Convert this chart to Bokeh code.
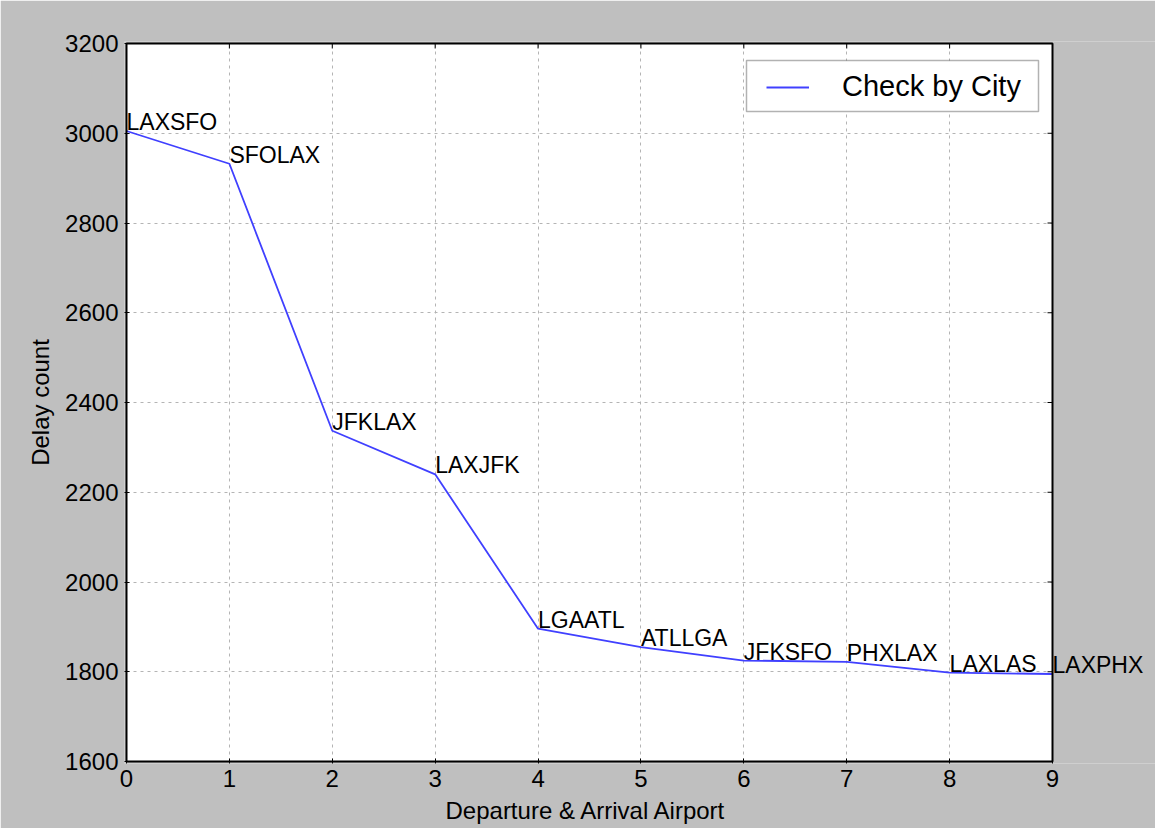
from bokeh.plotting import figure
from bokeh.models import (ColumnDataSource, Label, Range1d, FixedTicker,
                          BoxAnnotation, Title)
from bokeh.embed import file_html
from bokeh.resources import INLINE

# ---- data ----
routes = ["LAXSFO", "SFOLAX", "JFKLAX", "LAXJFK", "LGAATL",
          "ATLLGA", "JFKSFO", "PHXLAX", "LAXLAS", "LAXPHX"]
delays = [3005, 2932, 2337, 2240, 1896, 1855, 1825, 1822, 1798, 1795]
x_ticks = [0, 1, 2, 3, 4, 5, 6, 7, 8, 9]
y_ticks = [1600, 1800, 2000, 2200, 2400, 2600, 2800, 3000, 3200]
series_name = "Check by City"
x_title = "Departure & Arrival Airport"
y_title = "Delay count"

idx = list(range(len(routes)))
src = ColumnDataSource(dict(x=idx, y=delays, route=routes))

FONT = "Liberation Sans"
GRAY_BG = "#bfbfbf"

# ---- layout (pixels) ----
AX_L, AX_T = 126, 43          # white axes box, top-left on the page
AX_W, AX_H = 926, 718         # white axes box size
PAD = 2                       # frame padding so the black border is not clipped
RIGHT_EXTRA = 104             # room right of the axes for the last label
TICK = 5                      # inward tick length (px)
px_x = AX_W / (x_ticks[-1] - x_ticks[0])     # pixels per x unit
px_y = AX_H / (y_ticks[-1] - y_ticks[0])     # pixels per y unit

x_start = x_ticks[0] - PAD / px_x
x_end = x_ticks[-1] + (RIGHT_EXTRA - 1) / px_x
y_start = y_ticks[0] - PAD / px_y
y_end = y_ticks[-1] + PAD / px_y
FRAME_L, FRAME_T = AX_L - PAD, AX_T - PAD
FRAME_W = PAD + AX_W + RIGHT_EXTRA - 1
FRAME_H = AX_H + 2 * PAD

def to_x(px):
    return x_ticks[0] + (px - AX_L) / px_x

def to_y(py):
    return y_ticks[-1] - (py - AX_T) / px_y

p = figure(frame_width=FRAME_W, frame_height=FRAME_H,
           x_range=Range1d(x_start, x_end),
           y_range=Range1d(y_start, y_end),
           output_backend="svg", toolbar_location=None,
           min_border_left=FRAME_L, min_border_top=FRAME_T,
           min_border_right=0, min_border_bottom=20)

p.background_fill_color = GRAY_BG
p.border_fill_color = GRAY_BG
p.outline_line_color = None

# white axes area
p.add_layout(BoxAnnotation(left=x_ticks[0], right=x_ticks[-1],
                           bottom=y_ticks[0], top=y_ticks[-1],
                           fill_color="white", fill_alpha=1,
                           line_color=None, level="image"))
# black border of the axes
p.add_layout(BoxAnnotation(left=x_ticks[0], right=x_ticks[-1],
                           bottom=y_ticks[0], top=y_ticks[-1],
                           fill_alpha=0, line_color="black", line_width=2,
                           line_alpha=1, level="overlay"))

p.xgrid.ticker = FixedTicker(ticks=x_ticks[1:-1])
p.ygrid.ticker = FixedTicker(ticks=y_ticks[1:-1])
for g in (p.xgrid[0], p.ygrid[0]):
    g.grid_line_color = "#b4b4b4"
    g.grid_line_dash = "3 4"
    g.grid_line_width = 1
p.ygrid[0].cross_bounds = (x_ticks[0], x_ticks[-1])
p.xgrid[0].cross_bounds = (y_ticks[0], y_ticks[-1])

# mirrored inward ticks on the top and right edges (matplotlib style)
p.segment(x0=x_ticks, x1=x_ticks,
          y0=[y_ticks[-1]] * len(x_ticks),
          y1=[y_ticks[-1] - TICK / px_y] * len(x_ticks),
          line_color="black", line_width=1)
p.segment(x0=[x_ticks[-1]] * len(y_ticks),
          x1=[x_ticks[-1] - TICK / px_x] * len(y_ticks),
          y0=y_ticks, y1=y_ticks,
          line_color="black", line_width=1)

# legend box (drawn separately so its padding can match the reference)
p.add_layout(BoxAnnotation(left=to_x(746), right=to_x(1038),
                           top=to_y(60), bottom=to_y(111),
                           fill_color="white", fill_alpha=1,
                           line_color="black", line_width=1.5))

line = p.line("x", "y", source=src, line_color="#4040ff", line_width=1.8,
              legend_label=series_name)

for xi, yi, name in zip(idx, delays, routes):
    p.add_layout(Label(x=xi, y=yi, text=name, x_units="data", y_units="data",
                       text_align="left", text_baseline="bottom",
                       y_offset=-4,
                       text_font=FONT, text_font_size="23px",
                       text_color="black"))

for ax in (p.xaxis[0], p.yaxis[0]):
    ax.axis_line_color = None
    ax.major_tick_in = TICK
    ax.major_tick_out = 0
    ax.minor_tick_line_color = None
    ax.major_tick_line_color = "black"
    ax.major_label_text_font = FONT
    ax.major_label_text_font_size = "24px"
    ax.major_label_text_color = "black"
    ax.axis_label_text_font = FONT
    ax.axis_label_text_font_size = "24px"
    ax.axis_label_text_font_style = "normal"
    ax.axis_label_text_color = "black"

p.xaxis[0].ticker = FixedTicker(ticks=x_ticks)
p.yaxis[0].ticker = FixedTicker(ticks=y_ticks)
p.yaxis[0].axis_label = y_title
p.xaxis[0].major_label_standoff = 6
p.yaxis[0].major_label_standoff = 6
p.yaxis[0].axis_label_standoff = 8

# x axis title, centred under the white axes box
xt = Title(text=x_title, align="left", offset=(445 - FRAME_L), standoff=10,
           text_font=FONT, text_font_size="24px", text_font_style="normal",
           text_color="black")
p.add_layout(xt, "below")

lg = p.legend[0]
lg.location = (766 - FRAME_L, (FRAME_T + FRAME_H) - 103)
lg.margin = 0
lg.padding = 0
lg.border_line_color = None
lg.background_fill_alpha = 0
lg.label_text_font = FONT
lg.label_text_font_size = "29px"
lg.label_text_color = "black"
lg.glyph_width = 43
lg.glyph_height = 18
lg.label_standoff = 33
lg.label_height = 18

open("out.html", "w").write(file_html(p, INLINE))
